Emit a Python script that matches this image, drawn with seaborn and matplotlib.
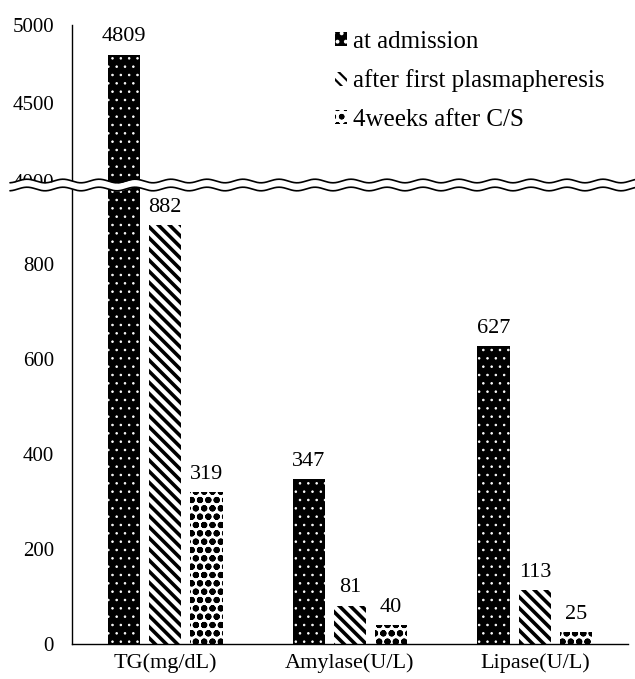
import numpy as np
import pandas as pd
import matplotlib
matplotlib.use("Agg")
import matplotlib.pyplot as plt
import matplotlib.patches as mpatches
import seaborn as sns

categories = ["TG(mg/dL)", "Amylase(U/L)", "Lipase(U/L)"]
series = ["at admission", "after first plasmapheresis", "4weeks after C/S"]
at_admission = [4809, 347, 627]
after_plasma = [882, 81, 113]
after_4weeks = [319, 40, 25]
top_ticks = [4000, 4500, 5000]
bottom_ticks = [0, 200, 400, 600, 800]

sns.set_theme(style="white")
plt.rcParams["font.family"] = ["Liberation Serif", "DejaVu Serif"]
plt.rcParams["hatch.linewidth"] = 1.6

values = [at_admission, after_plasma, after_4weeks]
df = pd.DataFrame({
    "category": categories * 3,
    "series": [s for s in series for _ in categories],
    "value": [v for vals in values for v in vals],
})

W, H = 635, 679
fig = plt.figure(figsize=(W / 100, H / 100), dpi=100)
left, right = 72 / W, 628 / W
y0, ybreak, ytop = 644, 185, 25
ax_b = fig.add_axes([left, 1 - y0 / H, right - left, (y0 - ybreak) / H])
ax_t = fig.add_axes([left, 1 - ybreak / H, right - left, (ybreak - ytop) / H])

styles = [
    dict(face="black", hatchcol="white", hatch="..", hlw=0.6),
    dict(face="white", hatchcol="black", hatch="\\\\\\", hlw=2.6),
    dict(face="white", hatchcol="black", hatch="oo", hlw=2.1),
]

for ax in (ax_b, ax_t):
    sns.barplot(data=df, x="category", y="value", hue="series", order=categories,
                hue_order=series, width=0.666, gap=0.2, ax=ax, legend=False,
                palette=["black", "white", "white"], saturation=1)
    for cont, st in zip(ax.containers, styles):
        for p in cont.patches:
            p.set_facecolor(st["face"])
            p.set_edgecolor(st["hatchcol"])
            p.set_linewidth(0)
            p.set_hatch(st["hatch"])
            if hasattr(p, "set_hatch_linewidth"):
                p.set_hatch_linewidth(st["hlw"])
    ax.set_xlim(-0.503, 2.503)
    ax.set_xlabel("")
    ax.set_ylabel("")
    for s in ["top", "right"]:
        ax.spines[s].set_visible(False)
    ax.spines["left"].set_color("black")
    ax.spines["left"].set_linewidth(1.0)
    ax.tick_params(axis="y", length=0, pad=13, labelsize=15, labelcolor="black")
    ax.tick_params(axis="x", length=0, pad=7, labelsize=16, labelcolor="black")

ax_b.set_ylim(0, (y0 - ybreak) / 0.475)
ax_b.set_yticks(bottom_ticks)
ax_b.spines["bottom"].set_color("black")
ax_b.spines["bottom"].set_linewidth(1.0)

ax_t.set_ylim(3974, 5000)
ax_t.set_yticks(top_ticks)
ax_t.spines["bottom"].set_visible(False)
ax_t.set_xticks([])

# value labels
for i, cont in enumerate(ax_b.containers):
    labs = [str(v) if v < 965 else "" for v in values[i]]
    ax_b.bar_label(cont, labels=labs, padding=6, fontsize=16, color="black")
for i, cont in enumerate(ax_t.containers):
    labs = [str(v) if v >= 3974 else "" for v in values[i]]
    ax_t.bar_label(cont, labels=labs, padding=6, fontsize=16, color="black")

# broken-axis wave
ov = fig.add_axes([0, 0, 1, 1], facecolor="none")
ov.set_xlim(0, W)
ov.set_ylim(H, 0)
ov.axis("off")
xs = np.linspace(10, W, 800)
upper = 181 + 1.8 * np.sin(2 * np.pi * xs / 36)
lower = 189 + 1.8 * np.sin(2 * np.pi * xs / 36)
ov.fill_between(xs, upper, lower, color="white", lw=0)
ov.plot(xs, upper, color="black", lw=1.2)
ov.plot(xs, lower, color="black", lw=1.2)

handles = []
for st in styles:
    h = mpatches.Patch(facecolor=st["face"], edgecolor=st["hatchcol"], hatch=st["hatch"], linewidth=0)
    handles.append(h)
leg = fig.legend(handles, series, loc="upper left", bbox_to_anchor=(335 / W, 1 - 31 / H),
                 frameon=False, fontsize=18, handlelength=0.48, handleheight=0.48,
                 handletextpad=0.26, labelspacing=0.66, borderpad=0, borderaxespad=0)
for t in leg.get_texts():
    t.set_color("black")

fig.savefig("out.png", dpi=100)
